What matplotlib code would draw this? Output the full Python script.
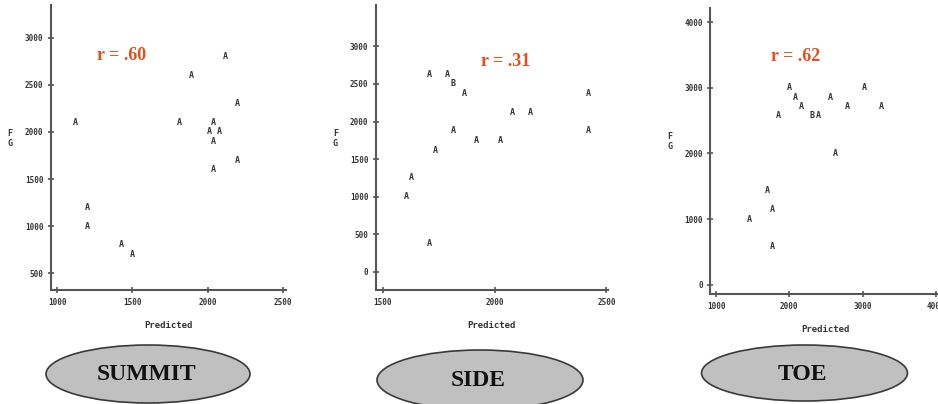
import matplotlib.pyplot as plt
from matplotlib.patches import Ellipse

summit_pred = [1120, 1200, 1200, 1430, 1500, 1810, 1890, 2120, 2040, 2010, 2080, 2040, 2040, 2200, 2200]
summit_obs = [2100, 1200, 1000, 800, 700, 2100, 2600, 2800, 2100, 2000, 2000, 1900, 1600, 2300, 1700]
summit_sym = ["A"] * 15

side_pred = [1710, 1790, 1815, 1866, 1815, 1735, 1628, 1605, 1708, 1920, 2025, 2080, 2160, 2420, 2420]
side_obs = [2620, 2620, 2500, 2370, 1875, 1620, 1250, 1000, 375, 1750, 1750, 2125, 2125, 2370, 1875]
side_sym = ["A", "A", "B", "A", "A", "A", "A", "A", "A", "A", "A", "A", "A", "A", "A"]

toe_pred = [2000, 2080, 2160, 1850, 2310, 2395, 2555, 2787, 3020, 3250, 2628, 1700, 1775, 1460, 1775]
toe_obs = [3000, 2860, 2720, 2580, 2580, 2580, 2860, 2720, 3000, 2720, 2000, 1430, 1145, 1000, 575]
toe_sym = ["A", "A", "A", "A", "B", "A", "A", "A", "A", "A", "A", "A", "A", "A", "A"]

r_labels = ["r = .60", "r = .31", "r = .62"]
site_names = ["SUMMIT", "SIDE", "TOE"]

summit_xticks = [1000, 1500, 2000, 2500]
summit_yticks = [500, 1000, 1500, 2000, 2500, 3000]
side_xticks = [1500, 2000, 2500]
side_yticks = [0, 500, 1000, 1500, 2000, 2500, 3000]
toe_xticks = [1000, 2000, 3000, 4000]
toe_yticks = [0, 1000, 2000, 3000, 4000]

W, H = 938, 404
fig = plt.figure(figsize=(W / 100, H / 100), dpi=100)

axis_gray = "#555555"
mark_color = "#333333"
mono = "DejaVu Sans Mono"


def px_axes(left, right, top, bottom):
    # axes box given in pixel positions of the reference
    return fig.add_axes([left / W, 1 - bottom / H, (right - left) / W, (bottom - top) / H])


def sas_plot(ax, xs, ys, syms, xlim, ylim, xticks, yticks, r_text, r_pos):
    for x, y, s in zip(xs, ys, syms):
        ax.text(x, y, s, ha="center", va="center", fontsize=6, family=mono,
                color=mark_color, fontweight="bold")
    ax.set_xlim(xlim)
    ax.set_ylim(ylim)
    ax.set_xticks(xticks)
    ax.set_yticks(yticks)
    for side in ["top", "right"]:
        ax.spines[side].set_visible(False)
    for side in ["left", "bottom"]:
        ax.spines[side].set_color(axis_gray)
        ax.spines[side].set_linewidth(1.5)
    ax.tick_params(direction="inout", length=5, width=1.2, color=axis_gray,
                   labelsize=5.5, labelcolor=mark_color, pad=3)
    for lab in ax.get_xticklabels() + ax.get_yticklabels():
        lab.set_family(mono)
        lab.set_fontweight("bold")
    ax.set_xlabel("Predicted", family=mono, fontsize=6.5, color=mark_color,
                  fontweight="bold", labelpad=10)
    ax.set_ylabel("F\nG", family=mono, fontsize=6, color=mark_color,
                  fontweight="bold", rotation=0, linespacing=1.1)
    ax.yaxis.set_label_coords(-0.175, 0.5)
    ax.text(r_pos[0], r_pos[1], r_text, transform=ax.transAxes, ha="center",
            va="center", fontsize=13, fontweight="bold", family="Liberation Serif",
            color="#E0501E")
    ax.patch.set_alpha(0)


ax1 = px_axes(51, 286, 5, 290)
sas_plot(ax1, summit_pred, summit_obs, summit_sym, (960, 2520), (320, 3350),
         summit_xticks, summit_yticks, r_labels[0], (0.30, 0.822))

ax2 = px_axes(376, 607.5, 5, 290)
sas_plot(ax2, side_pred, side_obs, side_sym, (1470, 2505), (-240, 3550),
         side_xticks, side_yticks, r_labels[1], (0.558, 0.80))

ax3 = px_axes(710.3, 939.6, 8, 294)
sas_plot(ax3, toe_pred, toe_obs, toe_sym, (922, 4050), (-142, 4218),
         toe_xticks, toe_yticks, r_labels[2], (0.374, 0.832))

# Grey ovals naming each slope position
ov = fig.add_axes([0, 0, 1, 1], zorder=-1)
ov.set_xlim(0, W)
ov.set_ylim(H, 0)
ov.axis("off")
oval_specs = [(148, 374, 204, 58), (480, 380, 206, 60), (804.5, 373, 206, 56)]
for (cx, cy, w, h), name in zip(oval_specs, site_names):
    ov.add_patch(Ellipse((cx, cy), w, h, facecolor="#C0C0C0", edgecolor="#3a3a3a",
                         linewidth=1.2))
    ov.text(cx - 2, cy + 1, name, ha="center", va="center", fontsize=17,
            fontweight="bold", family="Liberation Serif", color="#111111")

plt.savefig("out.png", dpi=100)
